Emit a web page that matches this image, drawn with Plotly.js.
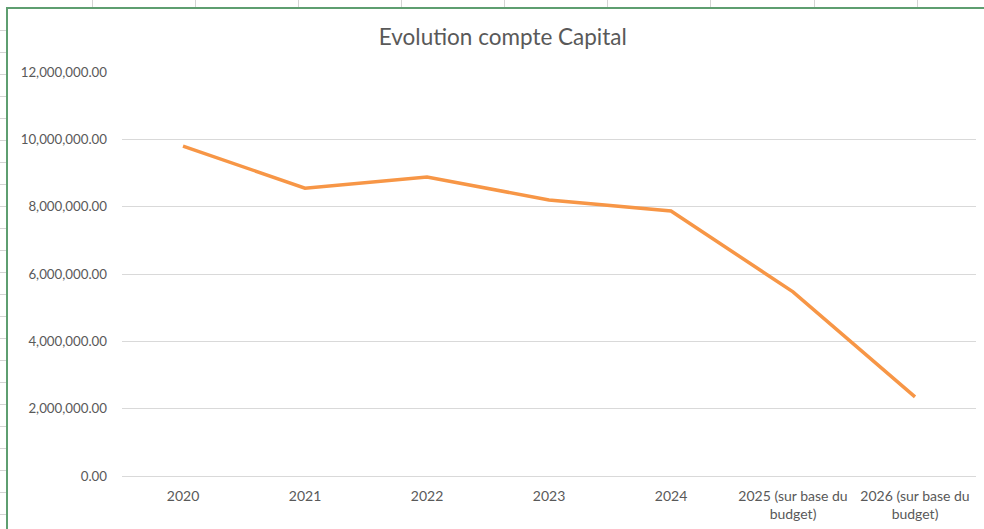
<!DOCTYPE html>
<html>
<head>
<meta charset="utf-8">
<script src="https://cdn.plot.ly/plotly-3.0.1.min.js"></script>
<style>
  html, body { margin: 0; padding: 0; width: 984px; height: 529px; overflow: hidden; background: #ffffff; }
  #sheet { position: absolute; left: 0; top: 0; width: 984px; height: 529px; }
  .vl { position: absolute; top: 0; width: 1px; height: 8px; background: #d4d4d4; }
  .hl { position: absolute; left: 0; width: 6px; height: 1px; background: #d4d4d4; }
  #frame { position: absolute; left: 6px; top: 7px; width: 990px; height: 540px; border-left: 2px solid #5e9e70; border-top: 2px solid #5e9e70; }
  #chart { position: absolute; left: 8px; top: 9px; width: 976px; height: 520px; }
</style>
</head>
<body>
<div id="sheet"></div>
<div id="frame"></div>
<div id="chart"></div>
<script>
// Data
const years = ["2020", "2021", "2022", "2023", "2024", "2025 (sur base du<br>budget)", "2026 (sur base du<br>budget)"];
const capital = [9800000, 8550000, 8880000, 8200000, 7870000, 5470000, 2350000];
const yTicks = [0, 2000000, 4000000, 6000000, 8000000, 10000000, 12000000];

// spreadsheet background gridlines (decoration)
const sheet = document.getElementById('sheet');
[92, 195, 298, 401, 504, 607, 710, 814, 917].forEach(function (x) {
  const d = document.createElement('div'); d.className = 'vl'; d.style.left = x + 'px'; sheet.appendChild(d);
});
for (let y = 30; y < 529; y += 22) {
  const d = document.createElement('div'); d.className = 'hl'; d.style.top = y + 'px'; sheet.appendChild(d);
}

const trace = {
  x: years,
  y: capital,
  type: 'scatter',
  mode: 'lines',
  line: { color: '#F79646', width: 3.5 },
  hoverinfo: 'x+y'
};

const layout = {
  width: 976,
  height: 520,
  margin: { l: 114, r: 8, t: 63, b: 53 },
  paper_bgcolor: '#ffffff',
  plot_bgcolor: '#ffffff',
  showlegend: false,
  font: { family: 'Lato, "Open Sans", sans-serif', color: '#595959', size: 13 },
  title: {
    text: 'Evolution compte Capital',
    font: { family: 'Lato, "Open Sans", sans-serif', size: 22.5, color: '#595959' },
    xref: 'container', x: 0.507, xanchor: 'center',
    yref: 'container', y: 0.946, yanchor: 'middle'
  },
  xaxis: {
    type: 'category',
    range: [-0.5, 6.5],
    showgrid: false,
    zeroline: false,
    showline: false,
    ticks: '',
    ticklabelstandoff: 10,
    tickfont: { size: 14, color: '#595959' }
  },
  yaxis: {
    range: [0, 12000000],
    tickmode: 'array',
    tickvals: yTicks,
    tickformat: ',.2f',
    showgrid: true,
    gridcolor: '#d9d9d9',
    gridwidth: 1,
    zeroline: true,
    zerolinecolor: '#d9d9d9',
    zerolinewidth: 1,
    showline: false,
    ticks: '',
    ticklabelstandoff: 14,
    tickfont: { size: 13.3, color: '#595959' }
  }
};

Plotly.newPlot('chart', [trace], layout, { displayModeBar: false, staticPlot: false });
</script>
</body>
</html>
